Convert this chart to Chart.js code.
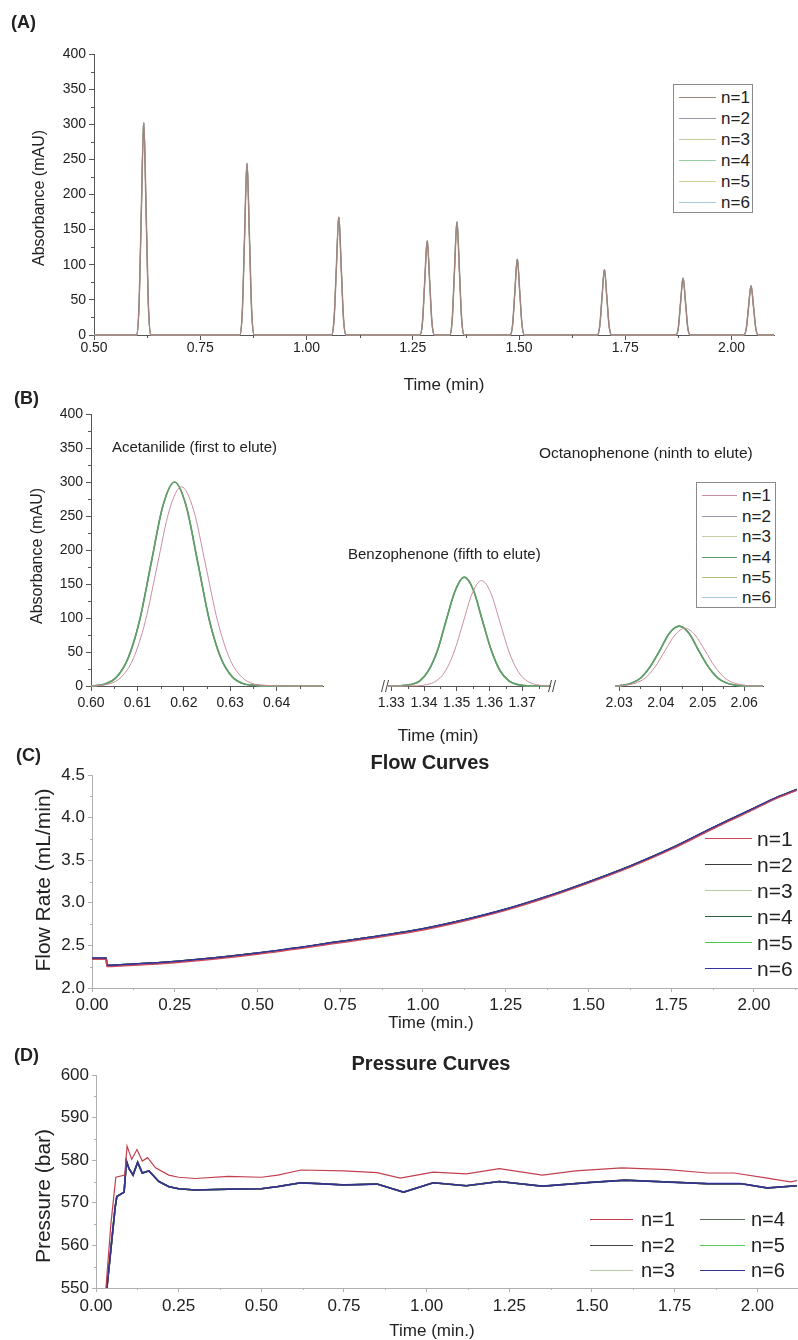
<!DOCTYPE html>
<html>
<head>
<meta charset="utf-8">
<title>Chromatograms, flow and pressure curves</title>
<script src="https://cdn.jsdelivr.net/npm/chart.js@4.4.1/dist/chart.umd.min.js"></script>
<style>
  html, body { margin: 0; padding: 0; background: #fff; }
  #page { position: relative; width: 798px; height: 1340px; overflow: hidden;
          font-family: "Liberation Sans", Arial, Helvetica, sans-serif; color: #222; }
  #page canvas { position: absolute; left: 0; top: 0; }
  .txt { position: absolute; white-space: nowrap; line-height: 1; }
  .legend-box { position: absolute; border: 1px solid #8a8a8a; background: #fff; box-sizing: border-box; }
  .leg-line { position: absolute; height: 0; border-top-style: solid; }
</style>
</head>
<body>
<div id="page">
  <canvas id="chartA" width="798" height="1340"></canvas>
  <canvas id="chartB1" width="798" height="1340"></canvas>
  <canvas id="chartB2" width="798" height="1340"></canvas>
  <canvas id="chartB3" width="798" height="1340"></canvas>
  <canvas id="chartC" width="798" height="1340"></canvas>
  <canvas id="chartD" width="798" height="1340"></canvas>
</div>
<script>
// ---------------- data ----------------
const runLabels = ['n=1', 'n=2', 'n=3', 'n=4', 'n=5', 'n=6'];

// (A) whole chromatogram - the six runs lie on top of each other at this scale
const timeA = [0.50,
  0.600, 0.606, 0.611, 0.617, 0.623, 0.628, 0.634,
  0.843, 0.849, 0.854, 0.860, 0.866, 0.871, 0.877,
  1.059, 1.065, 1.070, 1.076, 1.082, 1.087, 1.093,
  1.267, 1.273, 1.278, 1.284, 1.290, 1.295, 1.301,
  1.337, 1.343, 1.348, 1.354, 1.360, 1.365, 1.371,
  1.479, 1.485, 1.490, 1.496, 1.502, 1.507, 1.513,
  1.684, 1.690, 1.695, 1.701, 1.707, 1.712, 1.718,
  1.869, 1.875, 1.880, 1.886, 1.892, 1.897, 1.903,
  2.029, 2.035, 2.040, 2.046, 2.052, 2.057, 2.063,
  2.10];
const absA = [0,
  0, 42, 166, 302, 166, 42, 0,
  0, 34, 134, 244, 134, 34, 0,
  0, 24, 92, 168, 92, 24, 0,
  0, 19, 74, 134, 74, 19, 0,
  0, 23, 89, 161, 89, 23, 0,
  0, 15, 59, 108, 59, 15, 0,
  0, 13, 51, 93, 51, 13, 0,
  0, 11, 45, 81, 45, 11, 0,
  0, 10, 39, 70, 39, 10, 0,
  0];

// (B) zoom on three peaks; runs n=2..6 coincide, n=1 elutes slightly later
const timeB_grp = [0.600, 0.6030, 0.6055, 0.6080, 0.6105, 0.6130, 0.6155, 0.6180, 0.6205, 0.6230, 0.6255, 0.6280, 0.6305, 0.6330, 0.6355, 0.6400, 0.6500,
  1.3290, 1.3330, 1.3358, 1.3386, 1.3413, 1.3441, 1.3468, 1.3496, 1.3523, 1.3551, 1.3578, 1.3606, 1.3633, 1.3661, 1.3688, 1.3716, 1.3785,
  2.0290, 2.0306, 2.0329, 2.0352, 2.0375, 2.0398, 2.0421, 2.0444, 2.0467, 2.0490, 2.0513, 2.0536, 2.0559, 2.0582, 2.0605, 2.0645];
const absB_grp = [0, 3, 13, 41, 97, 182, 265, 300, 265, 182, 97, 41, 13, 3, 1, 0, 0,
  0, 0.4, 2, 7, 22, 52, 97, 141, 160, 141, 97, 52, 22, 7, 2, 0.4, 0,
  0, 1, 4, 12, 29, 53, 78, 88, 78, 53, 29, 12, 4, 1, 0.2, 0];
const timeB_n1 = [0.600, 0.6039, 0.6065, 0.6091, 0.6117, 0.6143, 0.6169, 0.6195, 0.6221, 0.6247, 0.6273, 0.6299, 0.6325, 0.6351, 0.6377, 0.6420, 0.6500,
  1.3290, 1.3380, 1.3408, 1.3436, 1.3464, 1.3492, 1.3520, 1.3548, 1.3576, 1.3604, 1.3632, 1.3660, 1.3688, 1.3716, 1.3744, 1.3772, 1.3785,
  2.0290, 2.0314, 2.0338, 2.0362, 2.0386, 2.0410, 2.0434, 2.0458, 2.0482, 2.0506, 2.0530, 2.0554, 2.0578, 2.0602, 2.0626, 2.0645];
const absB_n1 = [0, 3, 13, 40, 95, 178, 259, 293, 259, 178, 95, 40, 13, 3, 1, 0, 0,
  0, 0.3, 2, 7, 21, 50, 94, 137, 155, 137, 94, 50, 21, 7, 2, 0.3, 0,
  0, 1, 4, 11.5, 28, 52, 75, 85, 75, 52, 28, 11.5, 4, 1, 0.2, 0];

// (C) flow curves
const timeC = [0.000, 0.043, 0.045, 0.10, 0.25, 0.50, 0.75, 0.875, 1.00, 1.125, 1.25, 1.375, 1.50, 1.625, 1.75, 1.875, 1.94, 2.00, 2.06, 2.13];
const flowC_grp = [2.35, 2.35, 2.265, 2.275, 2.31, 2.41, 2.545, 2.615, 2.695, 2.80, 2.925, 3.075, 3.245, 3.43, 3.64, 3.88, 4.00, 4.11, 4.22, 4.33];
const flowC_n1 = [2.335, 2.335, 2.25, 2.26, 2.295, 2.395, 2.53, 2.60, 2.68, 2.785, 2.91, 3.06, 3.23, 3.415, 3.625, 3.865, 3.985, 4.095, 4.21, 4.32];

// (D) pressure curves
const timeD_grp = [0.033, 0.058, 0.063, 0.085, 0.092, 0.100, 0.112, 0.126, 0.140, 0.160, 0.190, 0.220, 0.250, 0.30, 0.40, 0.50, 0.55,
  0.62, 0.70, 0.75, 0.85, 0.93, 1.02, 1.12, 1.22, 1.35, 1.50, 1.60, 1.75, 1.85, 1.95, 2.03, 2.12];
const presD_grp = [550, 569, 571.5, 572.5, 579.8, 578, 576.5, 579.5, 577, 577.5, 575, 573.8, 573.3, 573.0, 573.2, 573.3, 573.8,
  574.7, 574.4, 574.2, 574.4, 572.5, 574.7, 574.0, 575.0, 573.9, 574.8, 575.3, 574.8, 574.5, 574.5, 573.5, 574.0];
const timeD_n1 = [0.030, 0.045, 0.060, 0.087, 0.094, 0.108, 0.124, 0.140, 0.156, 0.180, 0.220, 0.250, 0.30, 0.40, 0.50, 0.55,
  0.62, 0.75, 0.85, 0.92, 1.02, 1.12, 1.22, 1.35, 1.45, 1.59, 1.73, 1.85, 1.93, 2.03, 2.10, 2.12];
const presD_n1 = [550, 565, 576, 576.5, 583.3, 580.2, 582.5, 579.8, 580.6, 578.2, 576.5, 576.0, 575.7, 576.2, 576.0, 576.5,
  577.7, 577.5, 577.1, 575.8, 577.2, 576.8, 578.0, 576.5, 577.5, 578.2, 577.8, 577.0, 577.0, 575.8, 574.9, 575.2];

// tick labels
const xTicksA = [0.50, 0.75, 1.00, 1.25, 1.50, 1.75, 2.00];
const yTicksAB = [0, 50, 100, 150, 200, 250, 300, 350, 400];
const xTicksB1 = [0.60, 0.61, 0.62, 0.63, 0.64];
const xTicksB2 = [1.33, 1.34, 1.35, 1.36, 1.37];
const xTicksB3 = [2.03, 2.04, 2.05, 2.06];
const xTicksCD = [0.00, 0.25, 0.50, 0.75, 1.00, 1.25, 1.50, 1.75, 2.00];
const yTicksC = [2.0, 2.5, 3.0, 3.5, 4.0, 4.5];
const yTicksD = [550, 560, 570, 580, 590, 600];

// run colours per panel
const colorsA = ['#a0857f', '#9a98ae', '#c8c89e', '#96cea4', '#cfcf98', '#a6c8da'];
const colorsB = ['#c98f9c', '#9c98b0', '#c6d0a2', '#5f9f68', '#b2b878', '#a8ccd8'];
const colorsC = ['#cc4a5a', '#3c3c3c', '#b6caa6', '#2f5f3a', '#48c848', '#34349a'];
const colorsD = ['#c2404e', '#454545', '#b8c8a0', '#5a6e5a', '#55cc55', '#343490'];

// ---------------- layout helpers ----------------
const FONT = '"Liberation Sans", Arial, Helvetica, sans-serif';
const PAGE_W = 798, PAGE_H = 1340;
const Y_W = 60, X_H = 34;
const page = document.getElementById('page');

const pts = (xs, ys) => xs.map((x, i) => ({ x: x, y: ys[i] }));

// small unlabeled ticks half way between the labelled ones
const minorTicks = {
  id: 'minorTicks',
  afterDraw(chart) {
    const ctx = chart.ctx;
    ctx.save();
    ctx.lineWidth = 1;
    Object.values(chart.scales).forEach(s => {
      if (!s.options.display || s.ticks.length < 2) return;
      const step = s.ticks[1].value - s.ticks[0].value;
      const len = Math.max(2, s.options.grid.tickLength - 2);
      ctx.strokeStyle = s.options.grid.color;
      ctx.beginPath();
      for (let v = s.ticks[0].value - step / 2; v <= s.max + 1e-9; v += step) {
        if (v < s.min - 1e-9) continue;
        const p = Math.round(s.getPixelForValue(v)) + 0.5;
        if (s.isHorizontal()) { ctx.moveTo(p, s.top); ctx.lineTo(p, s.top + len); }
        else { ctx.moveTo(s.right - len, p); ctx.lineTo(s.right, p); }
      }
      ctx.stroke();
    });
    ctx.restore();
  }
};

// "//" marks on both sides of the middle segment of (B)
const axisBreaks = {
  id: 'axisBreaks',
  afterDraw(chart) {
    const { ctx, chartArea } = chart;
    const y = chartArea.bottom;
    ctx.save();
    ctx.strokeStyle = '#444';
    ctx.lineWidth = 1;
    [chartArea.left - 2.5, chartArea.right + 2.5].forEach(x => {
      ctx.beginPath();
      ctx.moveTo(x - 4, y + 6); ctx.lineTo(x - 1, y - 6);
      ctx.moveTo(x, y + 6); ctx.lineTo(x + 3, y - 6);
      ctx.stroke();
    });
    ctx.restore();
  }
};

function axis(which, a, show) {
  return {
    type: 'linear',
    position: which === 'x' ? 'bottom' : 'left',
    display: show,
    min: a.min,
    max: a.max,
    afterBuildTicks: s => { s.ticks = a.ticks.map(v => ({ value: v })); },
    afterFit: s => { if (which === 'x') s.height = X_H; else s.width = Y_W; },
    ticks: {
      autoSkip: false, maxRotation: 0, color: '#222', padding: a.pad,
      font: { family: FONT, size: a.size },
      callback: v => v.toFixed(a.digits)
    },
    grid: { drawOnChartArea: false, tickLength: a.tick, color: a.color, lineWidth: 1 },
    border: { color: a.color, width: 1 }
  };
}

function runSets(colors, dataN1, dataGrp, topIdx, widths, smooth) {
  return runLabels.map((lab, i) => ({
    label: lab,
    data: i === 0 ? dataN1 : dataGrp,
    borderColor: colors[i],
    borderWidth: widths[i],
    pointRadius: 0,
    fill: false,
    cubicInterpolationMode: smooth ? 'monotone' : 'default',
    tension: 0,
    order: i === 0 ? 0 : (i === topIdx ? 1 : 2),
    clip: { left: 0, right: 0, top: 2, bottom: 2 }
  }));
}

// area = plot rectangle in page pixels
function buildChart(id, area, opt) {
  const showY = opt.showY !== false;
  return new Chart(document.getElementById(id), {
    type: 'line',
    data: { datasets: opt.datasets },
    options: {
      responsive: false, animation: false, devicePixelRatio: 1, events: [],
      layout: { padding: {
        left: area.left - (showY ? Y_W : 0),
        top: area.top,
        right: PAGE_W - area.right,
        bottom: PAGE_H - area.bottom - X_H
      } },
      plugins: { legend: { display: false }, tooltip: { enabled: false } },
      scales: { x: axis('x', opt.x, true), y: axis('y', opt.y, showY) }
    },
    plugins: [minorTicks].concat(opt.plugins || [])
  });
}

function addText(txt, x, y, o) {
  o = o || {};
  const d = document.createElement('div');
  d.className = 'txt';
  d.textContent = txt;
  d.style.left = x + 'px';
  d.style.top = y + 'px';
  d.style.fontSize = (o.size || 14) + 'px';
  if (o.bold) d.style.fontWeight = 'bold';
  let tf = o.left ? 'translate(0,-50%)' : 'translate(-50%,-50%)';
  if (o.rotate) tf += ' rotate(-90deg)';
  d.style.transform = tf;
  page.appendChild(d);
}

function addLegend(items, colors, size, box) {
  if (box) {
    const b = document.createElement('div');
    b.className = 'legend-box';
    Object.assign(b.style, { left: box[0] + 'px', top: box[1] + 'px',
      width: (box[2] - box[0]) + 'px', height: (box[3] - box[1]) + 'px' });
    page.appendChild(b);
  }
  items.forEach(it => {
    const l = document.createElement('div');
    l.className = 'leg-line';
    Object.assign(l.style, { left: it.x0 + 'px', top: Math.round(it.y) + 'px',
      width: (it.x1 - it.x0) + 'px', borderTopColor: colors[it.i], borderTopWidth: '1px' });
    page.appendChild(l);
    addText(runLabels[it.i], it.tx, it.y, { size: size, left: true });
  });
}

// ---------------- (A) ----------------
const setA = pts(timeA, absA);
buildChart('chartA', { left: 94, top: 54, right: 774, bottom: 335 }, {
  datasets: runSets(colorsA, setA, setA, 1, [1.5, 1, 1, 1, 1, 1], true),
  x: { min: 0.5, max: 2.1, ticks: xTicksA, digits: 2, size: 14, pad: 0, tick: 5, color: '#555' },
  y: { min: 0, max: 400, ticks: yTicksAB, digits: 0, size: 14, pad: 3, tick: 5, color: '#555' }
});

// ---------------- (B) broken time axis ----------------
const n1B = pts(timeB_n1, absB_n1);
const grpB = pts(timeB_grp, absB_grp);
const widthsB = [1, 1.2, 1.2, 1.7, 1.2, 1.2];
const yB = { min: 0, max: 400, ticks: yTicksAB, digits: 0, size: 14, pad: 3, tick: 5, color: '#555' };
buildChart('chartB1', { left: 91, top: 414, right: 323, bottom: 686 }, {
  datasets: runSets(colorsB, n1B, grpB, 3, widthsB, true),
  x: { min: 0.600, max: 0.650, ticks: xTicksB1, digits: 2, size: 14, pad: 4, tick: 5, color: '#555' },
  y: yB
});
buildChart('chartB2', { left: 328, top: 414, right: 550, bottom: 686 }, {
  showY: false,
  datasets: runSets(colorsB, n1B, grpB, 3, widthsB, true),
  x: { min: 1.329, max: 1.3785, ticks: xTicksB2, digits: 2, size: 14, pad: 4, tick: 5, color: '#555' },
  y: yB,
  plugins: [axisBreaks]
});
buildChart('chartB3', { left: 555, top: 414, right: 763, bottom: 686 }, {
  showY: false,
  datasets: runSets(colorsB, n1B, grpB, 3, widthsB, true),
  x: { min: 2.029, max: 2.0645, ticks: xTicksB3, digits: 2, size: 14, pad: 4, tick: 5, color: '#555' },
  y: yB
});

// ---------------- (C) ----------------
buildChart('chartC', { left: 92, top: 775, right: 797, bottom: 988 }, {
  datasets: runSets(colorsC, pts(timeC, flowC_n1), pts(timeC, flowC_grp), 5, [1.2, 1.5, 1.5, 1.5, 1.5, 1.7], true),
  x: { min: 0, max: 2.13, ticks: xTicksCD, digits: 2, size: 17, pad: 3, tick: 4, color: '#b0b0b0' },
  y: { min: 2.0, max: 4.5, ticks: yTicksC, digits: 1, size: 17, pad: 3, tick: 4, color: '#b0b0b0' }
});

// ---------------- (D) ----------------
buildChart('chartD', { left: 96, top: 1075, right: 797, bottom: 1288 }, {
  datasets: runSets(colorsD, pts(timeD_n1, presD_n1), pts(timeD_grp, presD_grp), 5, [1.2, 1.5, 1.5, 1.5, 1.5, 1.7], false),
  x: { min: 0, max: 2.12, ticks: xTicksCD, digits: 2, size: 17, pad: 4, tick: 4, color: '#b0b0b0' },
  y: { min: 550, max: 600, ticks: yTicksD, digits: 0, size: 17, pad: 3, tick: 4, color: '#b0b0b0' }
});

// ---------------- texts ----------------
addText('(A)', 11, 22, { size: 18, bold: true, left: true });
addText('(B)', 14, 398, { size: 18, bold: true, left: true });
addText('(C)', 16, 755, { size: 18, bold: true, left: true });
addText('(D)', 14, 1055, { size: 18, bold: true, left: true });

addText('Absorbance (mAU)', 39, 198, { size: 16, rotate: true });
addText('Absorbance (mAU)', 37, 556, { size: 16, rotate: true });
addText('Flow Rate (mL/min)', 42, 880, { size: 21, rotate: true });
addText('Pressure (bar)', 42, 1196, { size: 21, rotate: true });

addText('Time (min)', 444, 384, { size: 17 });
addText('Time (min)', 438, 735, { size: 17 });
addText('Time (min.)', 431, 1022, { size: 17 });
addText('Time (min.)', 432, 1330, { size: 17 });

addText('Flow Curves', 430, 762, { size: 20, bold: true });
addText('Pressure Curves', 431, 1063, { size: 20, bold: true });

addText('Acetanilide (first to elute)', 112, 446, { size: 15, left: true });
addText('Benzophenone (fifth to elute)', 348, 553, { size: 15, left: true });
addText('Octanophenone (ninth to elute)', 539, 453, { size: 15.5, left: true });

// ---------------- legends ----------------
const rowsA = [97, 118, 139, 160, 181, 202];
addLegend(rowsA.map((y, i) => ({ i: i, y: y, x0: 679, x1: 716, tx: 721 })), colorsA, 17, [673, 84, 753, 213]);
const rowsB = [495, 515.5, 536, 556.5, 577, 597];
addLegend(rowsB.map((y, i) => ({ i: i, y: y, x0: 702, x1: 737, tx: 742 })), colorsB, 17, [696, 482, 776, 608]);
const rowsC = [838, 864, 890, 916, 942, 968];
addLegend(rowsC.map((y, i) => ({ i: i, y: y, x0: 705, x1: 752, tx: 757 })), colorsC, 21, null);
const rowsD = [1219, 1245, 1270];
addLegend(runLabels.map((lab, i) => i < 3
  ? { i: i, y: rowsD[i], x0: 590, x1: 633, tx: 641 }
  : { i: i, y: rowsD[i - 3], x0: 700, x1: 745, tx: 751 }), colorsD, 20, null);
</script>
</body>
</html>
